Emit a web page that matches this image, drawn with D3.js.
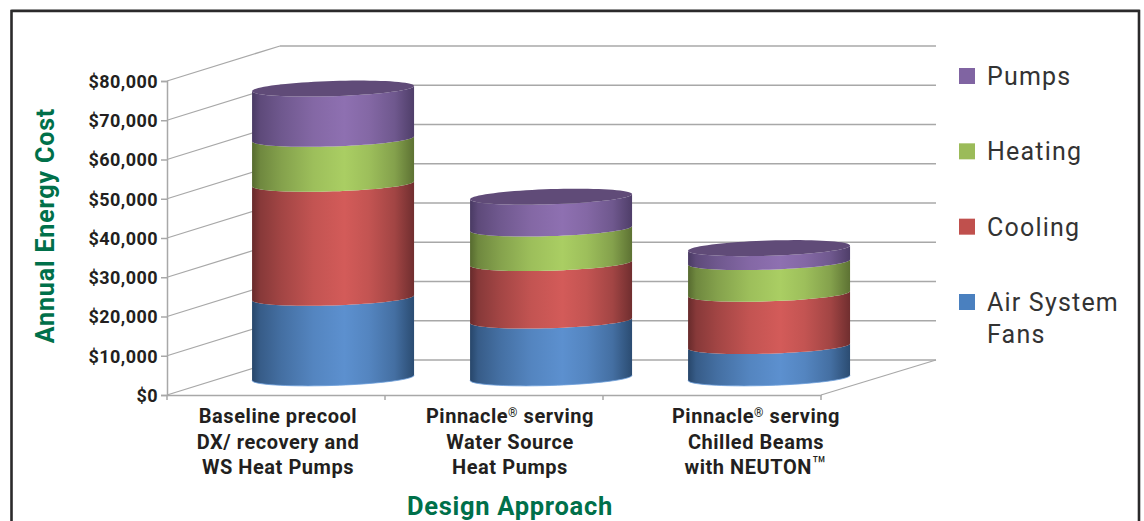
<!DOCTYPE html>
<html>
<head>
<meta charset="utf-8">
<script src="https://cdn.jsdelivr.net/npm/d3@7"></script>
<style>
  html, body { margin: 0; padding: 0; background: #fff; overflow: hidden; }
  text { font-family: Roboto, sans-serif; }
</style>
</head>
<body>
<div id="chart"></div>
<script>
// values
var categories = ["Baseline", "Water Source", "Chilled Beams"];
var airFans = [20400, 14600, 8100];
var cooling = [29050, 14650, 13330];
var heating = [11450, 8800, 8070];
var pumps = [12800, 8100, 3550];
var seriesNames = ["Air System Fans", "Cooling", "Heating", "Pumps"];
var yTicks = [0, 10000, 20000, 30000, 40000, 50000, 60000, 70000, 80000];
var categoryLines = [
  ["Baseline precool", "DX/ recovery and", "WS Heat Pumps"],
  ["Pinnacle® serving", "Water Source", "Heat Pumps"],
  ["Pinnacle® serving", "Chilled Beams", "with NEUTON™"]
];
var legendLines = [["Air System", "Fans"], ["Cooling"], ["Heating"], ["Pumps"]];

var W = 1144, H = 521;
var green = "#00704a", ink = "#231f20", gridCol = "#a8a8a8";

// lightest colour, edge colour
var colors = {
  "Air System Fans": ["#5c90cf", "#27466a"],
  "Cooling": ["#d35b59", "#672a2b"],
  "Heating": ["#aace63", "#566a2f"],
  "Pumps": ["#8e70b1", "#493a63"]
};
var swatch = {
  "Air System Fans": "#4a80bf",
  "Cooling": "#c0504d",
  "Heating": "#9bbb59",
  "Pumps": "#8064a2"
};

var svg = d3.select("#chart").append("svg")
  .attr("width", W)
  .attr("height", H)
  .style("display", "block");
var defs = svg.append("defs");

// frame, open at the bottom
svg.append("path")
  .attr("d", "M11.5," + H + "V9.5H1139.5V" + H)
  .attr("fill", "none")
  .attr("stroke", "#b5b5b5")
  .attr("stroke-width", 1);
svg.append("path")
  .attr("d", "M11.5," + H + "V11H1139V" + H)
  .attr("fill", "none")
  .attr("stroke", "#2b2a2b")
  .attr("stroke-width", 2.6);

// scales: front plane, the depth is a plain offset
var y = d3.scaleLinear().domain([0, 80000]).range([395, 81]);
var x = d3.scaleBand().domain(categories).range([167, 821]);
var depthX = 113, depthY = 35, backRight = 936;

// side wall and back wall
var grid = svg.append("g").attr("stroke", gridCol).attr("fill", "none");
yTicks.forEach(function(t) {
  grid.append("line")
    .attr("x1", x.range()[0]).attr("y1", y(t))
    .attr("x2", x.range()[0] + depthX).attr("y2", y(t) - depthY)
    .attr("stroke-width", 1.3);
  grid.append("line")
    .attr("x1", x.range()[0] + depthX).attr("y1", y(t) - depthY)
    .attr("x2", backRight).attr("y2", y(t) - depthY)
    .attr("stroke-width", 1.6);
});
// floor
grid.append("line")
  .attr("x1", x.range()[1]).attr("y1", y(0))
  .attr("x2", backRight).attr("y2", y(0) - depthY)
  .attr("stroke-width", 1.3);

// axes
var yAxis = svg.append("g")
  .attr("transform", "translate(" + x.range()[0] + ",0)")
  .call(d3.axisLeft(y).tickValues(yTicks).tickSize(6).tickPadding(3).tickFormat(d3.format("$,")));
yAxis.selectAll("path, line").attr("stroke", gridCol).attr("stroke-width", 1.5);
yAxis.selectAll("text")
  .attr("dy", "0.36em")
  .attr("font-size", 18)
  .attr("font-weight", 700)
  .attr("letter-spacing", 0.45)
  .attr("fill", ink)
  .style("font-family", "Roboto, sans-serif");

var xAxis = svg.append("g")
  .attr("transform", "translate(0," + y(0) + ")")
  .call(d3.axisBottom(x).tickSize(0).tickFormat(""));
xAxis.selectAll("path").attr("stroke", gridCol).attr("stroke-width", 1.6);
d3.range(categories.length + 1).forEach(function(i) {
  xAxis.append("line")
    .attr("x1", x.range()[0] + i * x.step()).attr("x2", x.range()[0] + i * x.step())
    .attr("y1", 0).attr("y2", 5)
    .attr("stroke", gridCol).attr("stroke-width", 1.5);
});

// stacked cylinders
var table = categories.map(function(c, i) {
  return { cat: c, "Air System Fans": airFans[i], "Cooling": cooling[i], "Heating": heating[i], "Pumps": pumps[i] };
});
var stacked = d3.stack().keys(seriesNames)(table);

var rx = 81, ry = 7.6, tilt = 0.032, midDepth = 0.49;
var shade = [[0, 0], [0.05, 0.3], [0.18, 0.55], [0.38, 0.85], [0.57, 1], [0.72, 0.85], [0.88, 0.55], [1, 0.08]];

seriesNames.forEach(function(name, s) {
  var mix = d3.interpolateRgb(colors[name][1], colors[name][0]);
  var g = defs.append("linearGradient").attr("id", "grad" + s);
  shade.forEach(function(d) {
    g.append("stop").attr("offset", d[0]).attr("stop-color", mix(d[1]));
  });
});

function cx(cat) { return x(cat) + x.bandwidth() / 2 + depthX * 0.505; }
function cy(v) { return y(v) - depthY * midDepth; }

// half of the tilted ellipse, left to right; side 1 is front, -1 is back
function arc(cat, v, side) {
  return d3.range(0, 41).map(function(i) {
    var t = Math.PI - i / 40 * Math.PI;
    var dx = rx * Math.cos(t);
    return [cx(cat) + dx, cy(v) - tilt * dx + side * ry * Math.sin(t)];
  });
}
var line = d3.line();

var bars = svg.append("g");
stacked.forEach(function(layer, s) {
  bars.selectAll(null)
    .data(layer)
    .enter()
    .append("path")
      .attr("d", function(d) {
        var low = arc(d.data.cat, d[0], 1);
        var high = arc(d.data.cat, d[1], 1).reverse();
        return line(low.concat(high)) + "Z";
      })
      .attr("fill", "url(#grad" + s + ")");
});
// light rim along the bottom
bars.selectAll(null)
  .data(categories)
  .enter()
  .append("path")
    .attr("d", function(c) { return line(arc(c, 0, 1)); })
    .attr("fill", "none")
    .attr("stroke", "#6d9fdc")
    .attr("stroke-width", 0.8);
// top caps
bars.selectAll(null)
  .data(stacked[3])
  .enter()
  .append("path")
    .attr("d", function(d) {
      return line(arc(d.data.cat, d[1], 1).concat(arc(d.data.cat, d[1], -1).reverse())) + "Z";
    })
    .attr("fill", "#604b78");

// category labels, set by hand in the original so not on the band centres
var labelX = [278, 510, 756];
categoryLines.forEach(function(lines, i) {
  lines.forEach(function(t, j) {
    var el = svg.append("text")
      .attr("x", labelX[i])
      .attr("y", 423 + j * 25.5)
      .attr("text-anchor", "middle")
      .attr("font-size", 20)
      .attr("font-weight", 700)
      .attr("letter-spacing", 0.55)
      .attr("fill", ink);
    // small raised mark after the name
    var raised = false;
    t.split(/([®™])/).forEach(function(p) {
      if (!p) return;
      var span = el.append("tspan").text(p);
      if (p === "®") {
        span.attr("font-size", 12).attr("font-weight", 400).attr("dy", -6);
        raised = true;
      } else if (p === "™") {
        span.attr("font-size", 24).attr("font-weight", 400).attr("dy", -1);
        raised = true;
      } else if (raised) {
        span.attr("dy", 6);
        raised = false;
      }
    });
  });
});

// axis titles
svg.append("text")
  .attr("transform", "translate(54,225.5)rotate(-90)")
  .attr("text-anchor", "middle")
  .attr("font-size", 25)
  .attr("font-weight", 700)
  .attr("letter-spacing", 0.85)
  .attr("fill", green)
  .text("Annual Energy Cost");
svg.append("text")
  .attr("x", 510)
  .attr("y", 515)
  .attr("text-anchor", "middle")
  .attr("font-size", 25.5)
  .attr("font-weight", 700)
  .attr("letter-spacing", 0.7)
  .attr("fill", green)
  .text("Design Approach");

// legend
var legendY = d3.scalePoint().domain(seriesNames).range([302, 76]);
seriesNames.forEach(function(name, i) {
  svg.append("rect")
    .attr("x", 959)
    .attr("y", legendY(name) - 8)
    .attr("width", 16)
    .attr("height", 16)
    .attr("fill", swatch[name]);
  legendLines[i].forEach(function(t, j) {
    svg.append("text")
      .attr("x", 987)
      .attr("y", legendY(name) + 9 + j * 32)
      .attr("font-size", 25)
      .attr("letter-spacing", 1.2)
      .attr("fill", "#333")
      .text(t);
  });
});
</script>
</body>
</html>
